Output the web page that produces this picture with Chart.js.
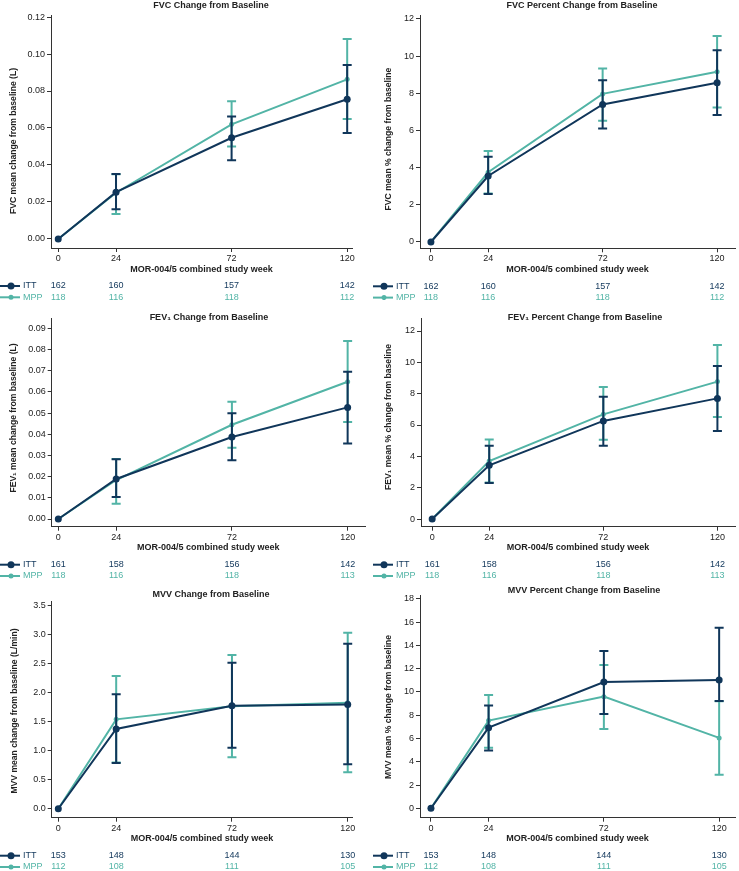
<!DOCTYPE html>
<html>
<head>
<meta charset="utf-8">
<script src="https://cdn.jsdelivr.net/npm/chart.js@4.4.0/dist/chart.umd.min.js"></script>
<style>
html, body { margin: 0; padding: 0; background: #fff; }
body { width: 739px; height: 871px; position: relative; overflow: hidden; }
canvas { position: absolute; }
</style>
</head>
<body>
<canvas id="c1"></canvas>
<canvas id="c2"></canvas>
<canvas id="c3"></canvas>
<canvas id="c4"></canvas>
<canvas id="c5"></canvas>
<canvas id="c6"></canvas>
<script>
const weeks = [0, 24, 72, 120];
const groups = ['ITT', 'MPP'];

// patients at each visit
const nFvcItt = [162, 160, 157, 142];
const nFvcMpp = [118, 116, 118, 112];
const nFev1Itt = [161, 158, 156, 142];
const nFev1Mpp = [118, 116, 118, 113];
const nMvvItt = [153, 148, 144, 130];
const nMvvMpp = [112, 108, 111, 105];

// FVC change (L)
const fvcItt   = [0, 0.0253, 0.0547, 0.0755];
const fvcIttLo = [null, 0.0161, 0.0425, 0.0573];
const fvcIttHi = [null, 0.0351, 0.0662, 0.0941];
const fvcMpp   = [0, 0.0250, 0.0620, 0.0863];
const fvcMppLo = [null, 0.0135, 0.0500, 0.0649];
const fvcMppHi = [null, 0.0350, 0.0744, 0.1081];

// FVC % change
const fvcPctItt   = [0, 3.55, 7.40, 8.57];
const fvcPctIttLo = [null, 2.58, 6.11, 6.83];
const fvcPctIttHi = [null, 4.59, 8.71, 10.32];
const fvcPctMpp   = [0, 3.75, 7.97, 9.16];
const fvcPctMppLo = [null, 2.61, 6.52, 7.24];
const fvcPctMppHi = [null, 4.89, 9.34, 11.09];

// FEV1 change (L)
const fev1Itt   = [0, 0.0189, 0.0387, 0.0527];
const fev1IttLo = [null, 0.0104, 0.0278, 0.0357];
const fev1IttHi = [null, 0.0282, 0.0499, 0.0695];
const fev1Mpp   = [0, 0.0184, 0.0445, 0.0648];
const fev1MppLo = [null, 0.0072, 0.0337, 0.0458];
const fev1MppHi = [null, 0.0283, 0.0554, 0.0840];

// FEV1 % change
const fev1PctItt   = [0, 3.43, 6.26, 7.70];
const fev1PctIttLo = [null, 2.30, 4.68, 5.62];
const fev1PctIttHi = [null, 4.68, 7.81, 9.77];
const fev1PctMpp   = [0, 3.70, 6.68, 8.77];
const fev1PctMppLo = [null, 2.33, 5.06, 6.51];
const fev1PctMppHi = [null, 5.07, 8.43, 11.11];

// MVV change (L/min)
const mvvItt   = [0, 1.376, 1.779, 1.800];
const mvvIttLo = [null, 0.789, 1.054, 0.766];
const mvvIttHi = [null, 1.975, 2.520, 2.850];
const mvvMpp   = [0, 1.543, 1.767, 1.830];
const mvvMppLo = [null, 0.796, 0.887, 0.628];
const mvvMppHi = [null, 2.290, 2.654, 3.040];

// MVV % change
const mvvPctItt   = [0, 6.93, 10.86, 11.03];
const mvvPctIttLo = [null, 4.96, 8.11, 9.23];
const mvvPctIttHi = [null, 8.83, 13.52, 15.53];
const mvvPctMpp   = [0, 7.54, 9.60, 6.05];
const mvvPctMppLo = [null, 5.21, 6.82, 2.89];
const mvvPctMppHi = [null, 9.74, 12.32, 9.20];

const fvcTicks = [0, 0.02, 0.04, 0.06, 0.08, 0.10, 0.12];
const fev1Ticks = [0, 0.01, 0.02, 0.03, 0.04, 0.05, 0.06, 0.07, 0.08, 0.09];
const mvvTicks = [0, 0.5, 1.0, 1.5, 2.0, 2.5, 3.0, 3.5];
const pctTicks = [0, 2, 4, 6, 8, 10, 12];
const mvvPctTicks = [0, 2, 4, 6, 8, 10, 12, 14, 16, 18];

const NAVY = '#10365a';
const TEAL = '#52b4a6';
const AXIS = '#333333';
const TXT = '#222222';
const FONT = '"Liberation Sans", Arial, Helvetica, sans-serif';
const X_H = 26.5;

const panels = [
    { el: 'c1', box: [0, 0, 369, 300], area: [51, 15, 352, 248], x: [-3, 122], y: [-0.0049, 0.1211],
      title: 'FVC Change from Baseline', titleAt: [211, 6],
      yTitle: 'FVC mean change from baseline (L)', yTitleAt: [14, 141],
      s: [fvcItt, fvcIttLo, fvcIttHi, fvcMpp, fvcMppLo, fvcMppHi], n: [nFvcItt, nFvcMpp], ticks: fvcTicks, dec: 2 },
    { el: 'c2', box: [369, 0, 370, 300], area: [420, 15, 737, 248.3], x: [-4.58, 127.5], y: [-0.34, 12.215],
      title: 'FVC Percent Change from Baseline', titleAt: [582, 6],
      yTitle: 'FVC mean % change from baseline', yTitleAt: [389, 139],
      s: [fvcPctItt, fvcPctIttLo, fvcPctIttHi, fvcPctMpp, fvcPctMppLo, fvcPctMppHi], n: [nFvcItt, nFvcMpp], ticks: pctTicks, dec: 0 },
    { el: 'c3', box: [0, 300, 369, 280], area: [51.7, 318, 365, 526.7], x: [-2.74, 127.2], y: [-0.00363, 0.0949],
      title: 'FEV\u2081 Change from Baseline', titleAt: [209, 318],
      yTitle: 'FEV\u2081 mean change from baseline (L)', yTitleAt: [14, 418],
      s: [fev1Itt, fev1IttLo, fev1IttHi, fev1Mpp, fev1MppLo, fev1MppHi], n: [nFev1Itt, nFev1Mpp], ticks: fev1Ticks, dec: 2 },
    { el: 'c4', box: [369, 300, 370, 280], area: [421, 318, 738, 526.7], x: [-4.7, 127.4], y: [-0.49, 12.83],
      title: 'FEV\u2081 Percent Change from Baseline', titleAt: [585, 318],
      yTitle: 'FEV\u2081 mean % change from baseline', yTitleAt: [389, 417],
      s: [fev1PctItt, fev1PctIttLo, fev1PctIttHi, fev1PctMpp, fev1PctMppLo, fev1PctMppHi], n: [nFev1Itt, nFev1Mpp], ticks: pctTicks, dec: 0 },
    { el: 'c5', box: [0, 580, 369, 291], area: [51.7, 601.7, 352.3, 817.7], x: [-2.74, 121.9], y: [-0.155, 3.574],
      title: 'MVV Change from Baseline', titleAt: [211, 595],
      yTitle: 'MVV mean change from baseline (L/min)', yTitleAt: [15, 711],
      s: [mvvItt, mvvIttLo, mvvIttHi, mvvMpp, mvvMppLo, mvvMppHi], n: [nMvvItt, nMvvMpp], ticks: mvvTicks, dec: 1 },
    { el: 'c6', box: [369, 580, 370, 291], area: [420, 595, 736.7, 817.7], x: [-4.56, 126.6], y: [-0.81, 18.34],
      title: 'MVV Percent Change from Baseline', titleAt: [584, 591],
      yTitle: 'MVV mean % change from baseline', yTitleAt: [389, 707],
      s: [mvvPctItt, mvvPctIttLo, mvvPctIttHi, mvvPctMpp, mvvPctMppLo, mvvPctMppHi], n: [nMvvItt, nMvvMpp], ticks: mvvPctTicks, dec: 0 }
];

// error bars, drawn right after each dataset so ITT stays on top
const errorBars = {
    id: 'errorBars',
    afterDatasetDraw(chart, args) {
        const ds = chart.data.datasets[args.index];
        const xs = chart.scales.x, ys = chart.scales.y;
        const ctx = chart.ctx;
        ctx.save();
        ctx.strokeStyle = ds.borderColor;
        ctx.lineWidth = 2;
        ds.data.forEach((p, i) => {
            if (ds.lo[i] == null) return;
            const x = xs.getPixelForValue(p.x);
            const y1 = ys.getPixelForValue(ds.lo[i]);
            const y2 = ys.getPixelForValue(ds.hi[i]);
            ctx.beginPath();
            ctx.moveTo(x, y1); ctx.lineTo(x, y2);
            ctx.moveTo(x - 4.5, y1); ctx.lineTo(x + 4.5, y1);
            ctx.moveTo(x - 4.5, y2); ctx.lineTo(x + 4.5, y2);
            ctx.stroke();
        });
        ctx.restore();
    }
};

// titles and the patients-at-visit table
const decorations = {
    id: 'decorations',
    afterDraw(chart) {
        const p = chart.options.plugins.decorations;
        const ctx = chart.ctx;
        const xs = chart.scales.x;
        const ox = p.box[0], oy = p.box[1];
        ctx.save();
        ctx.fillStyle = TXT;
        ctx.font = 'bold 9px ' + FONT;
        ctx.textAlign = 'center';
        ctx.textBaseline = 'middle';
        ctx.fillText(p.title, p.titleAt[0] - ox, p.titleAt[1] - oy);

        ctx.save();
        ctx.font = 'bold 8.6px ' + FONT;
        ctx.translate(p.yTitleAt[0] - ox, p.yTitleAt[1] - oy);
        ctx.rotate(-Math.PI / 2);
        ctx.fillText(p.yTitle, 0, 0);
        ctx.restore();

        const colors = [NAVY, TEAL];
        const radii = [3.5, 2.5];
        const rows = [38, 49.3];
        const lx = ox === 0 ? 0 : 4;
        groups.forEach((g, r) => {
            const y = chart.chartArea.bottom + rows[r];
            ctx.strokeStyle = colors[r];
            ctx.fillStyle = colors[r];
            ctx.lineWidth = 2;
            ctx.beginPath();
            ctx.moveTo(lx, y); ctx.lineTo(lx + 20, y);
            ctx.stroke();
            ctx.beginPath();
            ctx.arc(lx + 11, y, radii[r], 0, Math.PI * 2);
            ctx.fill();
            ctx.font = '9px ' + FONT;
            ctx.textAlign = 'left';
            ctx.fillText(g, lx + 23, y);
            ctx.textAlign = 'center';
            p.n[r].forEach((v, i) => ctx.fillText(String(v), xs.getPixelForValue(weeks[i]), y));
        });
        ctx.restore();
    }
};

function points(vals) {
    return weeks.map((w, i) => ({ x: w, y: vals[i] }));
}

panels.forEach(p => {
    const cv = document.getElementById(p.el);
    cv.width = p.box[2];
    cv.height = p.box[3];
    cv.style.left = p.box[0] + 'px';
    cv.style.top = p.box[1] + 'px';
    const [bx, by, bw, bh] = p.box;
    const [L, T, R, B] = p.area;

    new Chart(cv.getContext('2d'), {
        type: 'line',
        data: {
            datasets: [
                { label: 'ITT', data: points(p.s[0]), lo: p.s[1], hi: p.s[2],
                  borderColor: NAVY, backgroundColor: NAVY, borderWidth: 2,
                  pointRadius: 3.5, pointBorderWidth: 0, tension: 0 },
                { label: 'MPP', data: points(p.s[3]), lo: p.s[4], hi: p.s[5],
                  borderColor: TEAL, backgroundColor: TEAL, borderWidth: 2,
                  pointRadius: 2.5, pointBorderWidth: 0, tension: 0 }
            ]
        },
        options: {
            responsive: false,
            animation: false,
            layout: { padding: { left: 0, top: T - by, right: bx + bw - R, bottom: by + bh - B - X_H } },
            plugins: {
                legend: { display: false },
                tooltip: { enabled: false },
                decorations: p
            },
            scales: {
                x: {
                    type: 'linear', min: p.x[0], max: p.x[1],
                    afterBuildTicks: s => { s.ticks = weeks.map(v => ({ value: v })); },
                    afterFit: s => { s.height = X_H; },
                    grid: { drawOnChartArea: false, tickLength: 4, color: AXIS },
                    border: { color: AXIS, width: 1 },
                    ticks: { color: TXT, font: { family: FONT, size: 9 }, padding: 1, maxRotation: 0 },
                    title: { display: true, text: 'MOR-004/5 combined study week', color: TXT,
                             font: { family: FONT, size: 9, weight: 'bold' }, padding: 0 }
                },
                y: {
                    type: 'linear', min: p.y[0], max: p.y[1],
                    afterBuildTicks: s => { s.ticks = p.ticks.map(v => ({ value: v })); },
                    afterFit: s => { s.width = L - bx; },
                    grid: { drawOnChartArea: false, tickLength: 4, color: AXIS },
                    border: { color: AXIS, width: 1 },
                    ticks: { color: TXT, font: { family: FONT, size: 9 }, padding: 2,
                             callback: v => v.toFixed(p.dec) }
                }
            }
        },
        plugins: [errorBars, decorations]
    });
});
</script>
</body>
</html>
